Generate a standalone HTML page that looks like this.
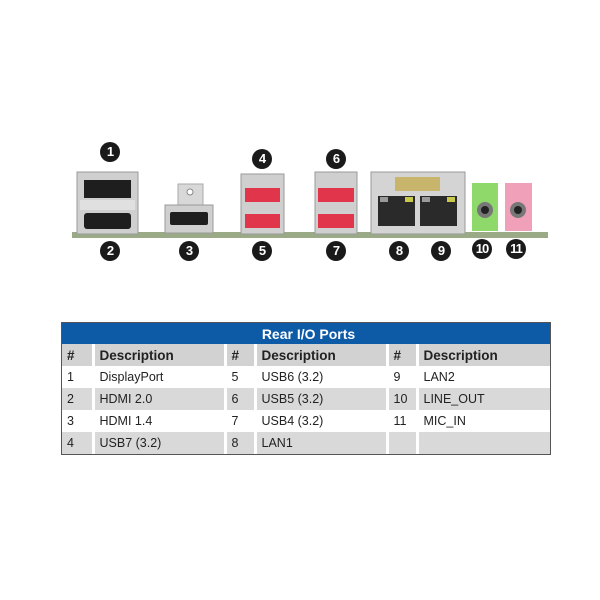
<!DOCTYPE html>
<html><head><style>
body{margin:0;background:#fff;width:600px;height:600px;position:relative;overflow:hidden;font-family:"Liberation Sans",Arial,sans-serif}
.c{position:absolute;width:20px;height:20px;border-radius:50%;background:#1a1a1a;color:#fff;font-weight:bold;font-size:13px;line-height:20px;text-align:center;letter-spacing:-1px}
table{position:absolute;left:62px;top:323px;width:488px;border-collapse:collapse;font-size:12.5px;color:#222;outline:1px solid #555}
td,th{padding:0 0 0 5px;text-align:left;height:22px;border-left:3px solid #fff}
td:first-child,th:first-child{border-left:none}
.t{background:#0d5aa7;color:#fff;text-align:center;font-size:14px;font-weight:bold;height:21px}
th{background:#d2d2d2;font-size:13.5px;height:22px}
tr.g td{background:#d9d9d9}
</style></head><body>
<svg width="600" height="300" style="position:absolute;left:0;top:0">
<rect x="72" y="232" width="476" height="6" fill="#9aaa86"/>
<rect x="77" y="172" width="61" height="62" fill="#cfcfcf" stroke="#999"/>
<rect x="84" y="180" width="47" height="18" fill="#1e1e1e"/>
<rect x="80" y="200" width="55" height="10" fill="#e0e0e0"/>
<rect x="84" y="213" width="47" height="16" rx="3" fill="#1e1e1e"/>
<rect x="178" y="184" width="25" height="24" fill="#d8d8d8" stroke="#aaa"/>
<circle cx="190" cy="192" r="3" fill="#fff" stroke="#888"/>
<rect x="165" y="205" width="48" height="28" fill="#cfcfcf" stroke="#999"/>
<rect x="170" y="212" width="38" height="13" rx="2" fill="#1e1e1e"/>
<rect x="241" y="174" width="43" height="60" fill="#cfcfcf" stroke="#999"/>
<rect x="245" y="188" width="35" height="14" fill="#e0354a"/>
<rect x="245" y="214" width="35" height="14" fill="#e0354a"/>
<rect x="315" y="172" width="42" height="62" fill="#cfcfcf" stroke="#999"/>
<rect x="318" y="188" width="36" height="14" fill="#e0354a"/>
<rect x="318" y="214" width="36" height="14" fill="#e0354a"/>
<rect x="371" y="172" width="94" height="62" fill="#d4d4d4" stroke="#999"/>
<rect x="395" y="177" width="45" height="14" fill="#c8b46a"/>
<rect x="378" y="196" width="37" height="30" fill="#2a2a2a"/>
<rect x="420" y="196" width="37" height="30" fill="#2a2a2a"/>
<rect x="380" y="197" width="8" height="5" fill="#9a9a9a"/><rect x="405" y="197" width="8" height="5" fill="#c8c84a"/>
<rect x="422" y="197" width="8" height="5" fill="#9a9a9a"/><rect x="447" y="197" width="8" height="5" fill="#c8c84a"/>
<rect x="472" y="183" width="26" height="48" fill="#8fd86a"/>
<circle cx="485" cy="210" r="8" fill="#777"/><circle cx="485" cy="210" r="4" fill="#222"/>
<rect x="505" y="183" width="27" height="48" fill="#f0a0b8"/>
<circle cx="518" cy="210" r="8" fill="#777"/><circle cx="518" cy="210" r="4" fill="#222"/>
</svg>
<div class="c" style="left:100px;top:142px">1</div>
<div class="c" style="left:100px;top:241px">2</div>
<div class="c" style="left:179px;top:241px">3</div>
<div class="c" style="left:252px;top:149px">4</div>
<div class="c" style="left:252px;top:241px">5</div>
<div class="c" style="left:326px;top:149px">6</div>
<div class="c" style="left:326px;top:241px">7</div>
<div class="c" style="left:389px;top:241px">8</div>
<div class="c" style="left:431px;top:241px">9</div>
<div class="c" style="left:472px;top:239px">10</div>
<div class="c" style="left:506px;top:239px">11</div>
<table>
<colgroup><col style="width:31px"><col style="width:132px"><col style="width:30px"><col style="width:132px"><col style="width:30px"><col></colgroup>
<tr><td colspan="6" class="t">Rear I/O Ports</td></tr>
<tr><th>#</th><th>Description</th><th>#</th><th>Description</th><th>#</th><th>Description</th></tr>
<tr><td>1</td><td>DisplayPort</td><td>5</td><td>USB6 (3.2)</td><td>9</td><td>LAN2</td></tr>
<tr class="g"><td>2</td><td>HDMI 2.0</td><td>6</td><td>USB5 (3.2)</td><td>10</td><td>LINE_OUT</td></tr>
<tr><td>3</td><td>HDMI 1.4</td><td>7</td><td>USB4 (3.2)</td><td>11</td><td>MIC_IN</td></tr>
<tr class="g"><td>4</td><td>USB7 (3.2)</td><td>8</td><td>LAN1</td><td></td><td></td></tr>
</table>
</body></html>
